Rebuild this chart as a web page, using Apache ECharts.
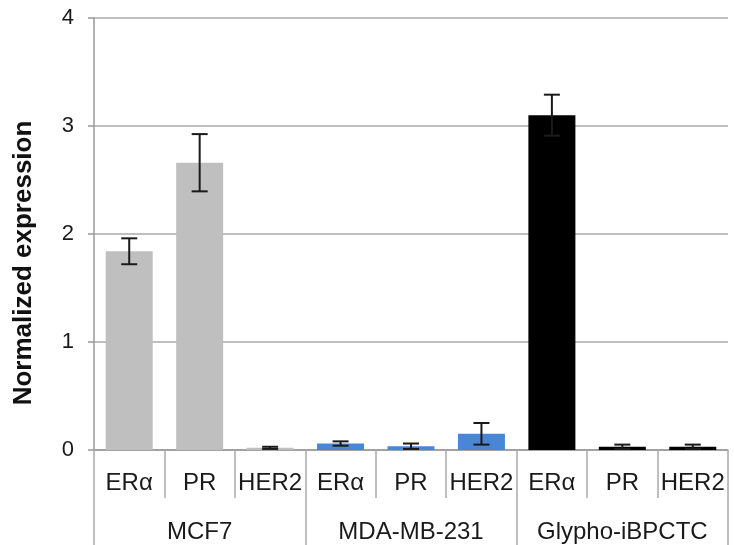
<!DOCTYPE html>
<html>
<head>
<meta charset="utf-8">
<script src="https://cdn.jsdelivr.net/npm/echarts@6/dist/echarts.min.js"></script>
<style>
html,body{margin:0;padding:0;background:#fff;}
#chart{width:734px;height:545px;}
</style>
</head>
<body>
<div id="chart"></div>
<script>
const categories = ['ERα','PR','HER2','ERα','PR','HER2','ERα','PR','HER2'];
const groups = ['MCF7','MDA-MB-231','Glypho-iBPCTC'];
const means = [1.84, 2.66, 0.02, 0.06, 0.035, 0.15, 3.1, 0.03, 0.03];
const errors = [0.12, 0.265, 0.01, 0.02, 0.025, 0.1, 0.19, 0.02, 0.02];
const barColors = ['#bfbfbf','#bfbfbf','#bfbfbf','#4a86d6','#4a86d6','#4a86d6','#000000','#000000','#000000'];
const yTicks = [0, 1, 2, 3, 4];

const font = '"Liberation Sans", Arial, sans-serif';
const chart = echarts.init(document.getElementById('chart'));

const barData = means.map((v, i) => ({
  value: v,
  itemStyle: { color: barColors[i] }
}));
const errData = means.map((v, i) => [i, v - errors[i], v + errors[i]]);

chart.setOption({
  animation: false,
  grid: { left: 94, right: 6, top: 18, bottom: 95, containLabel: false, outerBoundsMode: 'none' },
  xAxis: [
    {
      type: 'category',
      data: categories,
      position: 'bottom',
      offset: 0,
      axisLine: { show: true, lineStyle: { color: '#999', width: 1.5 } },
      axisTick: { show: true, interval: 0, length: 48, lineStyle: { color: '#aaa', width: 1.5 } },
      axisLabel: { interval: 0, margin: 21, fontSize: 24, color: '#1a1a1a', fontFamily: font }
    },
    {
      type: 'category',
      data: groups,
      position: 'bottom',
      offset: 0,
      axisLine: { show: false },
      axisTick: { show: true, interval: 0, length: 95, lineStyle: { color: '#aaa', width: 1.5 } },
      axisLabel: { interval: 0, margin: 70, fontSize: 24, color: '#1a1a1a', fontFamily: font }
    }
  ],
  yAxis: {
    type: 'value',
    min: yTicks[0],
    max: yTicks[yTicks.length - 1],
    interval: 1,
    name: 'Normalized expression',
    nameLocation: 'middle',
    nameGap: 57,
    nameTextStyle: { fontSize: 26, fontWeight: 'bold', color: '#111', fontFamily: font, padding: [0, 58, 0, 0] },
    axisLine: { show: true, lineStyle: { color: '#999', width: 1.5 } },
    axisTick: { show: true, length: 6, lineStyle: { color: '#999', width: 1.5 } },
    axisLabel: { margin: 20, fontSize: 22, color: '#1a1a1a', fontFamily: font },
    splitLine: { show: true, lineStyle: { color: '#aaa', width: 1.5 } }
  },
  series: [
    {
      type: 'bar',
      xAxisIndex: 0,
      data: barData,
      barWidth: 47
    },
    {
      type: 'custom',
      xAxisIndex: 0,
      data: errData,
      z: 10,
      renderItem: function (params, api) {
        const x = api.value(0);
        const lo = api.coord([x, api.value(1)]);
        const hi = api.coord([x, api.value(2)]);
        const hw = 8;
        const style = { stroke: '#1a1a1a', lineWidth: 2 };
        return {
          type: 'group',
          children: [
            { type: 'line', shape: { x1: hi[0], y1: hi[1], x2: lo[0], y2: lo[1] }, style: style },
            { type: 'line', shape: { x1: hi[0] - hw, y1: hi[1], x2: hi[0] + hw, y2: hi[1] }, style: style },
            { type: 'line', shape: { x1: lo[0] - hw, y1: lo[1], x2: lo[0] + hw, y2: lo[1] }, style: style }
          ]
        };
      }
    }
  ]
});
</script>
</body>
</html>
